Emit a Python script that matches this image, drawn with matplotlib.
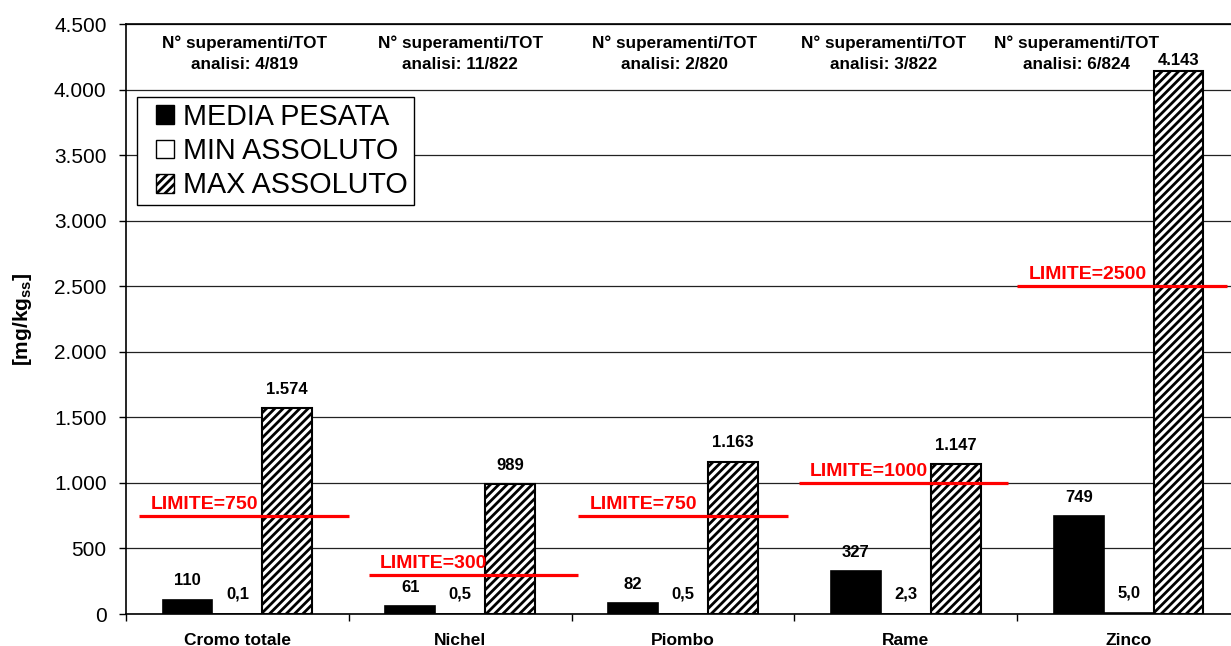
import numpy as np
import matplotlib
matplotlib.use("Agg")
from matplotlib import pyplot as plt
from matplotlib.patches import Patch, Rectangle
from matplotlib.legend_handler import HandlerPatch

plt.rcParams["font.family"] = ["Liberation Sans", "DejaVu Sans"]
plt.rcParams["mathtext.fontset"] = "custom"
plt.rcParams["mathtext.bf"] = "Liberation Sans:bold"
plt.rcParams["mathtext.rm"] = "Liberation Sans:bold"
plt.rcParams["hatch.linewidth"] = 2.0

metals = ["Cromo totale", "Nichel", "Piombo", "Rame", "Zinco"]
media_pesata = [110, 61, 82, 327, 749]
min_assoluto = [0.1, 0.5, 0.5, 2.3, 5.0]
max_assoluto = [1574, 989, 1163, 1147, 4143]
limiti = [750, 300, 750, 1000, 2500]
superamenti = ["4/819", "11/822", "2/820", "3/822", "6/824"]


def fmt_it(v, dec=0):
    # italian number format: "." for thousands, "," for decimals
    s = f"{v:,.{dec}f}"
    return s.replace(",", "X").replace(".", ",").replace("X", ".")


def square_handle(legend, orig_handle, xdescent, ydescent, width, height, fontsize):
    # small square pushed to the right end of the handle box
    s = height * 1.0
    return Rectangle((width - xdescent - s, -ydescent + (height - s) / 2), s, s)


W, H = 1231, 646
fig = plt.figure(figsize=(W / 100, H / 100), dpi=100)
ax = fig.add_axes([126 / W, 32 / H, 1114 / W, 590 / H])

x = np.arange(len(metals))
bw = 0.224

ax.bar(x - bw, media_pesata, bw, color="black", edgecolor="black", linewidth=1.2, zorder=3)
ax.bar(x, min_assoluto, bw, color="white", edgecolor="black", linewidth=1.2, zorder=3)
ax.bar(x + bw, max_assoluto, bw, color="white", edgecolor="black", linewidth=1.5,
       hatch="////", zorder=3)

lbl = dict(ha="center", va="bottom", fontsize=12, fontweight="bold",
           textcoords="offset points", zorder=5)
for i in range(len(metals)):
    ax.annotate(fmt_it(media_pesata[i]), (x[i] - bw, media_pesata[i]), xytext=(0, 8), **lbl)
    ax.annotate(fmt_it(min_assoluto[i], 1), (x[i], min_assoluto[i]), xytext=(0, 9), **lbl)
    dy = 2 if max_assoluto[i] > 4000 else 8
    ax.annotate(fmt_it(max_assoluto[i]), (x[i] + bw, max_assoluto[i]), xytext=(0, dy), **lbl)

# limit lines with labels
line_x0 = [-0.44, -0.41, -0.47, -0.48, -0.50]
for i, lim in enumerate(limiti):
    ax.plot([x[i] + line_x0[i], x[i] + line_x0[i] + 0.94], [lim, lim], color="#ff0000",
            lw=2.3, zorder=4, solid_capstyle="butt")
    ax.annotate(f"LIMITE={lim}", (x[i] + line_x0[i], lim), xytext=(8, 2),
                textcoords="offset points", ha="left", va="bottom", color="#ff0000",
                fontsize=14, fontweight="bold", zorder=5)

# number of exceedances above each group
note_dx = [0.03, 0.0, -0.04, -0.1, -0.235]
for i, s in enumerate(superamenti):
    ax.text(x[i] + note_dx[i], 4412, f"N° superamenti/TOT\nanalisi: {s}", ha="center",
            va="top", fontsize=12.3, fontweight="bold", linespacing=1.45, zorder=5)

ax.set_xlim(-0.5, len(metals) - 0.5)
ax.set_ylim(0, 4500)
ax.set_yticks(np.arange(0, 4501, 500))
ax.set_yticklabels([fmt_it(v) for v in np.arange(0, 4501, 500)], fontsize=15)
ax.set_xticks(x)
ax.set_xticklabels(metals, fontsize=12.5, fontweight="bold")
ax.set_xticks(np.arange(-0.5, len(metals)), minor=True)
ax.tick_params(axis="x", which="major", length=0, pad=14)
ax.tick_params(axis="x", which="minor", length=5, width=1, direction="out")
ax.tick_params(axis="y", length=5, width=1, direction="out", pad=9)
ax.yaxis.grid(True, color="#222222", lw=0.9, zorder=0)
ax.set_axisbelow(True)
for sp in ax.spines.values():
    sp.set_linewidth(1.2)

ax.set_ylabel(r"[mg/kg$_{\mathbf{ss}}$]", fontsize=15, fontweight="bold", labelpad=14)

handles = [
    Patch(facecolor="black", edgecolor="black"),
    Patch(facecolor="white", edgecolor="black"),
    Patch(facecolor="white", edgecolor="black", hatch="////"),
]
leg = ax.legend(handles, ["MEDIA PESATA", "MIN ASSOLUTO", "MAX ASSOLUTO"], loc="upper left",
                bbox_to_anchor=(11 / 1114, 517 / 590), borderaxespad=0, fontsize=20.7,
                frameon=True, fancybox=False, edgecolor="black", framealpha=1,
                handlelength=1.1, handleheight=0.62, handletextpad=0.3, labelspacing=0.22,
                borderpad=0.2, handler_map={Patch: HandlerPatch(patch_func=square_handle)})
leg.get_frame().set_linewidth(1.0)

fig.savefig("out.png", dpi=100)
